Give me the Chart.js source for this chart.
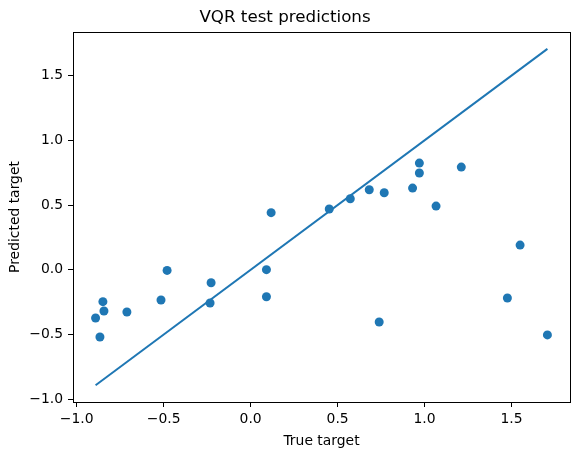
<!DOCTYPE html>
<html>
<head>
<meta charset="utf-8">
<script src="https://cdn.jsdelivr.net/npm/chart.js@4"></script>
<style>
  html, body { margin: 0; padding: 0; background: #fff; }
</style>
</head>
<body>
<canvas id="vqrChart" width="578" height="455"></canvas>
<script>
// True vs predicted values
const trueVals = [-0.891, -0.866, -0.849, -0.843, -0.711, -0.515, -0.480, -0.227, -0.233,
  0.091, 0.091, 0.118, 0.452, 0.573, 0.682, 0.768, 0.931, 0.970, 0.970, 1.066, 1.211,
  0.739, 1.549, 1.476, 1.706]
const predVals = [-0.372, -0.519, -0.246, -0.318, -0.326, -0.233, -0.005, -0.100, -0.256,
  0.001, -0.208, 0.441, 0.469, 0.549, 0.618, 0.595, 0.631, 0.824, 0.747, 0.492, 0.793,
  -0.403, 0.191, -0.218, -0.503]

// Tick labels on both axes
const xTicks = [-1.0, -0.5, 0.0, 0.5, 1.0, 1.5]
const yTicks = [-1.0, -0.5, 0.0, 0.5, 1.0, 1.5]

// Identity line from the smallest to the largest true value
const lo = Math.min(...trueVals)
const hi = Math.max(...trueVals)
const identity = [{ x: lo, y: lo }, { x: hi, y: hi }]

// matplotlib-style 5% margins
const margin = (hi - lo) * 0.05
const axMin = lo - margin
const axMax = hi + margin

const blue = '#1f77b4'
const font = 'DejaVu Sans'
const fmt = v => (v < 0 ? '\u2212' : '') + Math.abs(v).toFixed(1)

// Draw the full box around the plot area like matplotlib does
const frame = {
  id: 'frame',
  afterDraw(chart) {
    const { ctx, chartArea: a } = chart
    ctx.save()
    ctx.strokeStyle = '#000'
    ctx.lineWidth = 1
    ctx.strokeRect(Math.round(a.left) + 0.5, Math.round(a.top) + 0.5,
      Math.round(a.right - a.left), Math.round(a.bottom - a.top))
    ctx.restore()
  }
}

const ctx = document.getElementById('vqrChart').getContext('2d')
new Chart(ctx, {
  type: 'scatter',
  data: {
    datasets: [
      {
        label: 'predictions',
        data: trueVals.map((x, i) => ({ x: x, y: predVals[i] })),
        backgroundColor: blue,
        borderColor: blue,
        pointRadius: 4.5,
        pointHoverRadius: 4.5,
        borderWidth: 0,
        order: 1
      },
      {
        label: 'identity',
        data: identity,
        showLine: true,
        borderColor: blue,
        borderWidth: 2,
        pointRadius: 0,
        fill: false,
        order: 2
      }
    ]
  },
  options: {
    responsive: false,
    animation: false,
    layout: { padding: { left: 0, right: 8, top: 0, bottom: 0 } },
    scales: {
      x: {
        type: 'linear',
        min: axMin,
        max: axMax,
        afterBuildTicks: s => { s.ticks = xTicks.map(v => ({ value: v })) },
        afterFit: s => { s.height = 53 },
        grid: { drawOnChartArea: false, drawTicks: true, tickLength: 5, color: '#000', lineWidth: 1 },
        border: { display: true, color: '#000', width: 1 },
        ticks: {
          padding: 4,
          color: '#000',
          font: { family: font, size: 13.9 },
          maxRotation: 0,
          callback: v => fmt(v)
        },
        title: {
          display: true,
          text: 'True target',
          color: '#000',
          font: { family: font, size: 13.9 },
          padding: { top: 0, bottom: 5 }
        }
      },
      y: {
        type: 'linear',
        min: axMin,
        max: axMax,
        afterBuildTicks: s => { s.ticks = yTicks.map(v => ({ value: v })) },
        afterFit: s => { s.width = 73 },
        grid: { drawOnChartArea: false, drawTicks: true, tickLength: 5, color: '#000', lineWidth: 1 },
        border: { display: true, color: '#000', width: 1 },
        ticks: {
          padding: 5,
          color: '#000',
          font: { family: font, size: 13.9 },
          callback: v => fmt(v)
        },
        title: {
          display: true,
          text: 'Predicted target',
          color: '#000',
          font: { family: font, size: 13.9 },
          padding: { top: 7, bottom: 0 }
        }
      }
    },
    plugins: {
      legend: { display: false },
      tooltip: { enabled: false },
      title: {
        display: true,
        text: 'VQR test predictions',
        color: '#000',
        font: { family: font, size: 16.7, weight: 'normal' },
        padding: { top: 8, bottom: 4 }
      }
    }
  },
  plugins: [frame]
})
</script>
</body>
</html>
